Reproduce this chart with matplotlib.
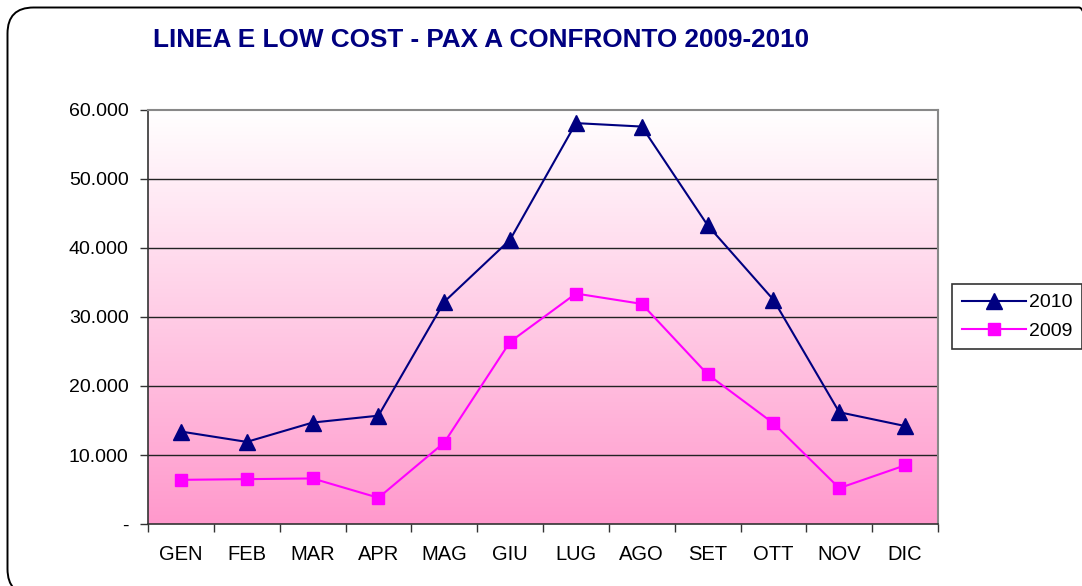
import numpy as np
import matplotlib
matplotlib.use("Agg")
import matplotlib.pyplot as plt
from matplotlib.patches import FancyBboxPatch
from matplotlib.transforms import IdentityTransform
from matplotlib.ticker import FuncFormatter, FixedLocator

months = ["GEN", "FEB", "MAR", "APR", "MAG", "GIU", "LUG", "AGO", "SET", "OTT", "NOV", "DIC"]
pax_2010 = [13400, 11900, 14700, 15700, 32200, 41200, 58100, 57600, 43300, 32500, 16200, 14200]
pax_2009 = [6400, 6500, 6600, 3800, 11800, 26400, 33400, 31900, 21700, 14600, 5200, 8500]
y_ticks = [0, 10000, 20000, 30000, 40000, 50000, 60000]
title = "LINEA E LOW COST - PAX A CONFRONTO 2009-2010"

plt.rcParams['font.family'] = ['Liberation Sans', 'DejaVu Sans']

W, H = 1082, 586
fig = plt.figure(figsize=(W / 100, H / 100), dpi=100)

# rounded outer frame in pixel coordinates (extends beyond right/bottom edges)
frame = FancyBboxPatch((7.5, -9), 1105 - 7.5, (H - 7.5) + 9,
                       boxstyle="round,pad=0,rounding_size=26",
                       transform=IdentityTransform(), fill=False, ec="black", lw=1.4)
fig.patches.append(frame)

left, right, top, bottom = 148, 938, 110, 524
ax = fig.add_axes([left / W, 1 - bottom / H, (right - left) / W, (bottom - top) / H])

x = np.arange(len(months))

# gradient background: white at top, pink at bottom
grad = np.linspace(0, 1, 256).reshape(-1, 1)
top_c = np.array([1.0, 1.0, 1.0])
bot_c = np.array([1.0, 0.60, 0.80])
img = top_c[None, None, :] * (1 - grad[:, :, None]) + bot_c[None, None, :] * grad[:, :, None]
ax.imshow(img, extent=(-0.5, len(months) - 0.5, 0, 60000), aspect="auto",
          zorder=0, origin="upper", interpolation="bilinear")
ax.set_xlim(-0.5, len(months) - 0.5)
ax.set_ylim(0, 60000)

for yv in y_ticks[1:-1]:
    ax.axhline(yv, color="#222222", lw=1.0, zorder=1)

ax.plot(x, pax_2010, color="#000080", lw=1.5, marker="^", markersize=11,
        markerfacecolor="#000080", markeredgecolor="#000080", label="2010", zorder=3)
ax.plot(x, pax_2009, color="#ff00ff", lw=1.5, marker="s", markersize=9,
        markerfacecolor="#ff00ff", markeredgecolor="#ff00ff", label="2009", zorder=3)

ax.yaxis.set_major_locator(FixedLocator(y_ticks))
ax.yaxis.set_major_formatter(FuncFormatter(
    lambda v, p: "-" if v == 0 else f"{int(v):,}".replace(",", ".")))
ax.set_xticks(x)
ax.set_xticklabels(months)
ax.set_xticks(np.arange(-0.5, len(months), 1.0), minor=True)
ax.tick_params(axis="x", which="major", length=0, pad=15, labelsize=14.5)
ax.tick_params(axis="x", which="minor", length=6, width=1, color="#333333")
ax.tick_params(axis="y", length=6, width=1, color="#333333", pad=8, labelsize=14)

for s in ["top", "right"]:
    ax.spines[s].set_color("#888888")
    ax.spines[s].set_linewidth(1.5)
for s in ["left", "bottom"]:
    ax.spines[s].set_color("#333333")
    ax.spines[s].set_linewidth(1.2)

fig.text(481 / W, 1 - 40 / H, title, ha="center", va="center",
         fontsize=18.8, fontweight="bold", color="#000080")

leg = fig.legend(loc="upper left", bbox_to_anchor=(952 / W, 1 - 284 / H),
                 frameon=True, fancybox=False, edgecolor="black", fontsize=14,
                 handlelength=3.3, borderpad=0.5, labelspacing=0.55, handletextpad=0.15,
                 borderaxespad=0)
leg.get_frame().set_linewidth(1.2)

fig.savefig("out.png", dpi=100)
